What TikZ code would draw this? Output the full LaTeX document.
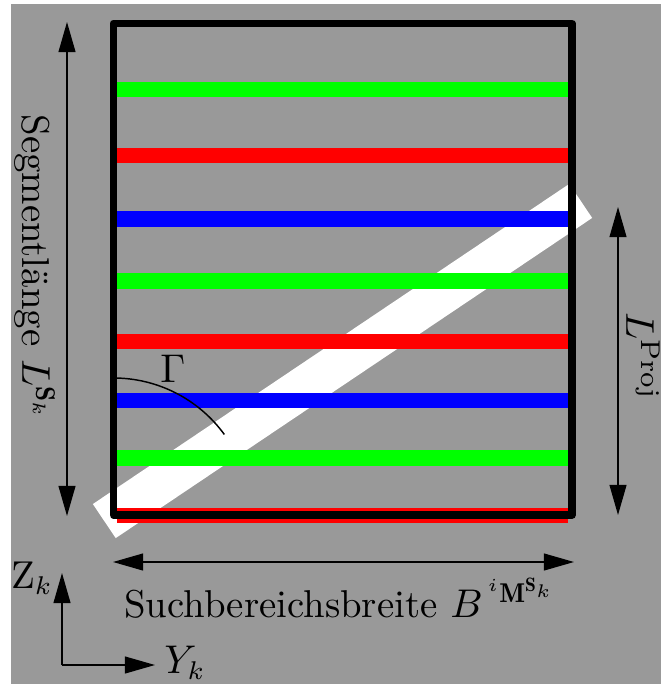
\documentclass[tikz,border=0pt]{standalone}
\usepackage{fontspec}
\usepackage{amsmath,amssymb}
\usetikzlibrary{arrows.meta,positioning,calc}
\definecolor{bgGray}{RGB}{153,153,153}
\definecolor{stripeRed}{RGB}{255,0,0}
\definecolor{stripeGreen}{RGB}{0,255,0}
\definecolor{stripeBlue}{RGB}{0,0,255}
\tikzset{
  dimarrow/.style={thin, {Triangle[length=8.2pt,width=4.6pt]}-{Triangle[length=8.2pt,width=4.6pt]}},
  axisarrow/.style={thin, -{Triangle[length=8.2pt,width=4.6pt]}},
  stripe/.style={line width=4.1pt},
}

\begin{document}
\begin{tikzpicture}[x=0.0096cm,y=-0.0096cm, every node/.style={font=\fontsize{10.6pt}{12.5pt}\selectfont}]
  % Background
  \useasboundingbox (0,0) rectangle (661,684);
  \fill[bgGray] (11,4) rectangle (661,684);

  % Projection band
  \fill[white, rotate around={33.9:(342.5,361)}] (55.5,340.5) rectangle (629.5,381.5);

  % Stripes
  \foreach \yy/\col in {90/stripeGreen,155.7/stripeRed,219/stripeBlue,281/stripeGreen,341.7/stripeRed,400.7/stripeBlue,458/stripeGreen,515.5/stripeRed}
    \draw[stripe,\col] (117,\yy) -- (568,\yy);

  % Frame
  \draw[line width=2.1pt, line join=round] (113.5,23.5) rectangle (572,515);

  % Angle
  \draw[thin] (113.5,378) arc[start angle=-90, end angle=-36, radius=137];
  \node (gamma) at (173,369) {$\Gamma$};

  % Dimension arrows
  \coordinate (segTop) at (67,22);
  \coordinate (segBot) at (67,516);
  \draw[dimarrow] (segTop) -- (segBot);
  \node[rotate=-90] (seglabel) at (35,267) {Segmentlänge $L^{\mathbf{S}_k}$};

  \coordinate (projTop) at (618,207);
  \coordinate (projBot) at (618,515);
  \draw[dimarrow] (projTop) -- (projBot);
  \node[rotate=-90] (projlabel) at (643,356) {$L^{\mathrm{Proj}}$};

  \coordinate (widthL) at (113,562);
  \coordinate (widthR) at (574,562);
  \draw[dimarrow] (widthL) -- (widthR);
  \node (widthlabel) at (340,598) {Suchbereichsbreite $B^{\,{}^{i}\mathbf{M}^{\mathbf{S}_k}}$};

  % Axes
  \coordinate (origin) at (62,665);
  \coordinate (zTip) at (62,573);
  \coordinate (yTip) at (155,665);
  \draw[axisarrow] (origin) -- (zTip);
  \draw[axisarrow] (origin) -- (yTip);
  \node (zlabel) at (32,578) {$\mathrm{Z}_k$};
  \node (ylabel) at (185,663) {$Y_k$};
\end{tikzpicture}
\end{document}
